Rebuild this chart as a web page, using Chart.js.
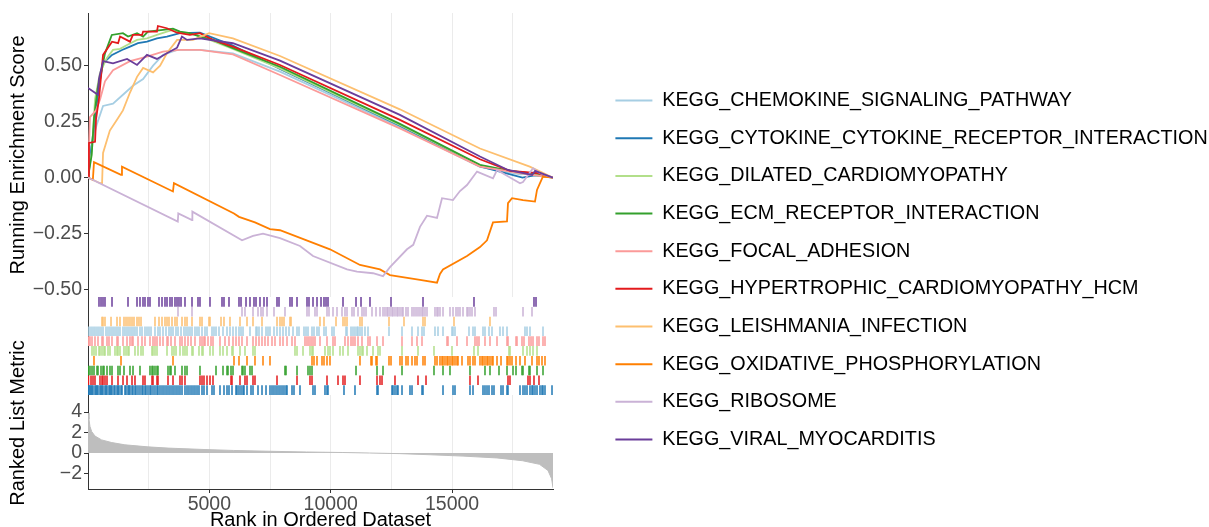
<!DOCTYPE html>
<html><head><meta charset="utf-8">
<script src="https://cdn.jsdelivr.net/npm/chart.js@4/dist/chart.umd.min.js"></script>
<style>html,body{margin:0;padding:0;background:#fff}</style>
</head><body>
<canvas id="c" width="1209" height="527" style="display:block;width:1209px;height:527px"></canvas>
<script>
const setNames = ['KEGG_CHEMOKINE_SIGNALING_PATHWAY','KEGG_CYTOKINE_CYTOKINE_RECEPTOR_INTERACTION','KEGG_DILATED_CARDIOMYOPATHY','KEGG_ECM_RECEPTOR_INTERACTION','KEGG_FOCAL_ADHESION','KEGG_HYPERTROPHIC_CARDIOMYOPATHY_HCM','KEGG_LEISHMANIA_INFECTION','KEGG_OXIDATIVE_PHOSPHORYLATION','KEGG_RIBOSOME','KEGG_VIRAL_MYOCARDITIS'];
const setColors = ['#A6CEE3','#1F78B4','#B2DF8A','#33A02C','#FB9A99','#E31A1C','#FDBF6F','#FF7F00','#CAB2D6','#6A3D9A'];

// running enrichment score: [rank, score]
const esChemokine = [[0,0],[80,0.12],[370,0.24],[620,0.32],[1030,0.33],[1440,0.37],[1850,0.41],[2270,0.44],[2680,0.50],[3090,0.548],[3670,0.57],[4610,0.57],[5970,0.555],[7910,0.473],[12850,0.225],[16150,0.048],[17800,0.015],[18600,0.02],[19158,0]];
const esCytokine = [[0,0],[160,0.15],[330,0.30],[450,0.41],[620,0.51],[990,0.548],[1400,0.57],[1730,0.585],[2060,0.60],[2430,0.607],[2840,0.622],[3250,0.63],[3790,0.645],[4610,0.647],[5970,0.59],[7910,0.485],[12850,0.232],[16150,0.05],[17900,0.0],[18400,0.01],[19158,0]];
const esDilated = [[0,0],[160,0.12],[290,0.35],[490,0.466],[770,0.533],[1030,0.57],[1320,0.575],[1610,0.592],[2020,0.615],[2430,0.622],[2840,0.637],[3250,0.652],[3500,0.66],[3910,0.645],[4490,0.637],[5970,0.575],[7910,0.488],[12850,0.235],[16150,0.055],[17800,0.02],[19158,0]];
const esEcm = [[0,0],[150,0.10],[250,0.27],[400,0.40],[500,0.45],[700,0.555],[980,0.637],[1440,0.645],[1650,0.63],[2020,0.645],[2270,0.63],[2470,0.652],[3090,0.66],[3500,0.665],[3790,0.652],[4200,0.645],[4610,0.63],[5150,0.615],[5970,0.578],[7910,0.495],[12850,0.24],[16150,0.057],[17400,0.03],[18700,0.015],[19158,0]];
const esFocal = [[0,0],[80,0.27],[330,0.30],[500,0.35],[700,0.43],[1030,0.48],[1730,0.52],[2430,0.54],[3090,0.563],[3790,0.57],[4610,0.57],[5970,0.55],[7910,0.458],[12850,0.22],[16150,0.049],[17800,0.02],[19158,0]];
const esHypertrophic = [[0,0],[40,0.155],[290,0.16],[330,0.26],[450,0.35],[620,0.548],[990,0.607],[1240,0.60],[1320,0.63],[1730,0.607],[1850,0.637],[2230,0.637],[2270,0.652],[2840,0.652],[2880,0.677],[3250,0.667],[3670,0.647],[4200,0.637],[4610,0.645],[5150,0.615],[5970,0.585],[7910,0.503],[12850,0.258],[16150,0.082],[17390,0.03],[18540,0.02],[19158,0]];
const esLeishmania = [[0,0],[500,-0.025],[580,-0.025],[620,0.11],[900,0.21],[1200,0.26],[1440,0.30],[1730,0.38],[2020,0.45],[2270,0.49],[2680,0.47],[2970,0.50],[3250,0.555],[3670,0.615],[4330,0.615],[4990,0.645],[5970,0.622],[7910,0.543],[12850,0.305],[16150,0.13],[18200,0.049],[19158,0]];
const esOxidative = [[0,0],[200,-0.01],[247,0.069],[1360,0.012],[1400,0.049],[3500,-0.062],[3540,-0.025],[6015,-0.16],[6221,-0.175],[6880,-0.20],[7498,-0.23],[7910,-0.235],[9970,-0.32],[11206,-0.39],[12030,-0.41],[12442,-0.435],[13678,-0.457],[14379,-0.469],[14502,-0.43],[14626,-0.41],[15615,-0.35],[16150,-0.31],[16439,-0.28],[16686,-0.20],[17263,-0.196],[17304,-0.114],[17469,-0.092],[17922,-0.10],[18416,-0.107],[18499,-0.055],[18622,-0.025],[18746,0.005],[19158,0]];
const esRibosome = [[0,0],[3700,-0.196],[3720,-0.16],[4285,-0.19],[4300,-0.152],[6345,-0.28],[6800,-0.26],[7210,-0.25],[7910,-0.27],[8734,-0.305],[9270,-0.35],[10671,-0.41],[11083,-0.42],[11742,-0.427],[12154,-0.44],[12442,-0.40],[13143,-0.32],[13400,-0.30],[13678,-0.22],[13967,-0.17],[14379,-0.18],[14585,-0.092],[15038,-0.10],[15326,-0.06],[15615,-0.033],[16027,0.027],[16686,-0.003],[16851,0.034],[17798,-0.025],[17922,-0.02],[18334,0.042],[18622,0.02],[19158,0]];
const esViral = [[0,0.40],[410,0.37],[450,0.44],[620,0.52],[1030,0.51],[1610,0.53],[2020,0.503],[2430,0.548],[2840,0.53],[3250,0.555],[3670,0.58],[3870,0.63],[4080,0.615],[4610,0.622],[5970,0.60],[7910,0.522],[12850,0.28],[16150,0.094],[17300,0.034],[18300,0.012],[18420,0.03],[19158,0]];

// gene hit ranks (rug)
const hitsChemokine = [41,124,206,288,371,453,536,618,742,824,906,989,1071,1154,1236,1318,1442,1524,1607,1689,1772,1854,1936,2019,2142,2225,2348,2431,2513,2596,2760,2884,2966,3090,3214,3337,3420,3502,3626,3708,3832,3955,4038,4120,4202,4285,4408,4491,4573,4697,4820,4903,5109,5191,5274,5397,5562,5727,5850,5974,6098,6221,6304,6386,6674,6922,6963,7045,7169,7334,7416,7498,7663,7787,7910,8034,8158,8281,8446,8611,8693,8899,8982,9064,9229,9311,9435,9517,9723,9806,10053,10135,10630,10671,10836,10918,11000,11083,11124,11206,11289,11412,11536,12401,12937,13349,13596,13761,13843,14296,14420,14626,14997,15038,15120,15697,15862,15944,16274,16356,16521,16645,16974,17098,17263,18004,18087,18210,18746];
const hitsCytokine = [10,41,82,124,165,206,288,330,371,412,494,536,577,618,700,742,783,865,906,948,989,1071,1112,1195,1236,1277,1360,1401,1524,1566,1648,1689,1730,1813,1854,1936,1978,2060,2142,2225,2266,2348,2390,2472,2554,2596,2678,2760,2843,2884,2966,3049,3131,3214,3296,3378,3461,3543,3626,3708,3790,3873,3996,4079,4161,4244,4326,4408,4491,4573,4697,4779,4903,5109,5191,5438,5603,5727,5809,5933,6098,6139,6221,6304,6386,6427,6551,6716,6798,7004,7169,7334,7498,7581,7663,7746,7828,7910,7993,8075,8158,8199,8405,8487,8734,9270,9352,9764,9847,9888,10547,11000,11907,11948,12525,12566,12648,12731,12772,12937,13266,13349,13761,13802,14626,15038,15120,15738,15862,16274,16356,16439,16521,16645,16727,17016,17098,17263,17304,17798,17922,18004,18087,18210,18293,18334,18416,18499,18622,18705,18746,18828,19117];
const hitsDilated = [165,247,330,453,494,577,659,700,824,906,1112,1195,1236,1318,1483,1566,1648,1689,1936,2060,2184,2266,2637,2678,2760,2843,3255,3461,3543,3626,3790,3914,3996,4079,4285,4326,4573,4697,4738,5026,5150,5438,5562,5727,5933,5974,6262,6468,6798,6880,8528,8611,8858,9146,9229,9270,9764,9888,9970,10094,10382,10506,10712,11124,11206,11289,11330,11495,11742,11948,12030,12937,13596,14255,14997,15903,16068,17345,17386,17922,18087,18210,18334,18499];
const hitsEcm = [20,82,165,247,371,412,536,618,659,783,906,989,1236,1318,1483,1730,1854,2142,2554,2637,2678,2760,2843,2884,3296,3378,3420,3584,3873,3996,4079,4614,5274,5562,5727,5768,5892,5974,6345,6386,6468,6674,6757,8116,8158,8611,9064,9146,9229,11042,11907,12154,12937,14255,14626,14914,15738,16356,16562,16933,17263,17510,17634,17881,17922,18169,18210,18499,18746];
const hitsFocal = [30,82,165,288,412,577,618,783,865,989,1195,1236,1442,1607,1730,1813,1854,2060,2225,2348,2554,2678,2760,2843,2966,3090,3255,3296,3420,3584,3790,3873,3996,4120,4244,4408,4614,4697,4779,4820,4944,5068,5150,5438,5644,5809,5974,6098,6221,6345,6551,6798,6922,7045,7169,7292,7416,7581,7704,7910,8034,8199,8405,8528,8940,9023,9105,9188,9270,9352,9558,9847,10094,10176,10588,10712,10836,10918,11000,11124,11289,11536,11618,11907,12154,12937,13349,13555,13761,14791,14832,15203,15615,15944,16027,16109,16356,16562,16851,17263,17304,17634,17675,17881,17963,18169,18252,18334,18499,18581,18746,18828];
const hitsHypertrophic = [20,124,206,288,494,577,618,700,783,989,1236,1442,1607,1813,1936,2266,2348,2637,2678,2843,2884,3296,3502,3790,3873,3996,4614,4697,4779,4903,5026,5150,5892,5933,6262,6468,6551,6798,6880,7787,8611,9146,9229,9847,10300,10506,10588,11206,11907,12030,12113,12648,13596,13926,15738,16068,17304,17386,18128,18210,18375,18581];
const hitsLeishmania = [577,618,700,948,1195,1318,1483,1566,1648,1730,1813,1895,2019,2101,2184,2760,2925,3049,3172,3255,3337,3461,3584,3667,3873,3996,4079,4285,4614,4697,4985,5026,5480,5603,5850,6262,6551,6798,7169,7787,7910,7993,8075,8322,8364,9558,9723,10218,10506,10588,10671,11206,11289,12401,13019,13802,13884,15079,16562];
const hitsOxidative = [247,1360,3502,6015,6221,6551,6880,7210,7498,9229,9311,9435,9641,9723,9847,9970,11206,11660,11701,11866,11907,12401,12484,12854,12937,13102,13184,13349,13472,13555,13802,13884,14296,14379,14502,14585,14626,14708,14791,14832,14914,14997,15038,15120,15203,15244,15409,15656,15738,15862,15944,16150,16233,16274,16356,16439,16480,16562,16645,16686,16851,17016,17263,17304,17386,17469,17634,17798,18004,18293,18499,18581,18705,18828];
const hitsRibosome = [3708,4285,6345,6468,6798,7004,7128,7210,7375,7663,8116,9023,9105,9352,9435,9847,9929,10094,10259,10465,10588,10671,10877,10959,11124,11289,11371,11454,11701,11866,12030,12154,12236,12319,12360,12442,12525,12566,12648,12731,12772,12854,12937,12978,13102,13184,13349,13431,13514,13596,13678,13761,13802,13884,13967,14296,14379,14420,14502,14626,14914,15038,15162,15244,15326,15450,15615,15656,15738,15821,15944,16727,16810,17922,18293];
const hitsViral = [453,536,618,700,989,1648,2019,2142,2266,2348,2472,2554,2925,3049,3172,3255,3378,3461,3584,3667,3749,3832,3996,4285,4532,4614,5026,5521,5603,5809,6221,6304,6510,6674,6839,6922,7086,7251,7375,7787,7869,8322,8405,8611,9023,9105,9270,9435,9600,9723,9806,9888,10506,11042,11248,11618,12484,13802,15903,18375,18458];

// ranked list metric: rank, value
const metricRanks = [0,40,80,150,290,560,980,1520,2470,3300,4820,6000,7500,9000,10500,11600,12850,14100,15450,16850,17900,18600,18950,19100,19158];
const metricValues = [3.9,3.3,2.6,2.1,1.65,1.28,1.02,0.8,0.6,0.48,0.34,0.25,0.17,0.1,0.05,0.0,-0.06,-0.17,-0.3,-0.48,-0.75,-1.1,-1.7,-2.5,-3.4];

// axis ticks
const xTicks = [5000, 10000, 15000];
const xMinorTicks = [2500, 7500, 12500, 17500];
const esTicks = [-0.5, -0.25, 0, 0.25, 0.5];
const metricTicks = [-2, 0, 2, 4];
const metricTitle = 'Ranked List Metric';

const esSeries = [esChemokine, esCytokine, esDilated, esEcm, esFocal, esHypertrophic, esLeishmania, esOxidative, esRibosome, esViral];
const hitSeries = [hitsChemokine, hitsCytokine, hitsDilated, hitsEcm, hitsFocal, hitsHypertrophic, hitsLeishmania, hitsOxidative, hitsRibosome, hitsViral];
// rug rows from top to bottom (indices into setNames)
const rugTopToBottom = [9, 8, 6, 0, 4, 2, 7, 3, 5, 1];

const FONT = "'Liberation Sans', Arial, Helvetica, sans-serif";
const minus = s => s.replace('-', '\u2212');

const datasets = [];
setNames.forEach((name, i) => {
  datasets.push({
    type: 'line', label: name,
    data: esSeries[i].map(p => ({x: p[0], y: p[1]})),
    borderColor: setColors[i], backgroundColor: setColors[i],
    borderWidth: 1.8, pointRadius: 0, pointHoverRadius: 0, pointStyle: 'line',
    pointBorderWidth: 2, pointBorderColor: setColors[i],
    tension: 0, fill: false, yAxisID: 'yES', order: 20 - i
  });
});
rugTopToBottom.forEach((si, row) => {
  datasets.push({
    type: 'scatter', label: 'rug_' + si,
    data: hitSeries[si].map(r => ({x: r, y: 9.5 - row})),
    yAxisID: 'yRug', showLine: false,
    pointStyle: 'line', pointRotation: 90, pointRadius: 4.8, pointHoverRadius: 4.8,
    pointBorderColor: setColors[si], pointBorderWidth: 1.5,
    borderColor: setColors[si], order: 30
  });
});
datasets.push({
  type: 'line', label: 'metric',
  data: metricRanks.map((r, k) => ({x: r, y: metricValues[k]})),
  yAxisID: 'yM', borderColor: '#BEBEBE', backgroundColor: '#BEBEBE', borderWidth: 1,
  fill: 'origin', pointRadius: 0, tension: 0, order: 40
});

const legendWidthPlugin = {
  id: 'legendWidth',
  beforeLayout(chart) {
    const lg = chart.legend;
    if (lg && !lg._wPatched) {
      const f = lg.fit;
      lg.fit = function() { f.call(this); this.width = 611.5; };
      lg._wPatched = true;
    }
  }
};
const rugBgPlugin = {
  id: 'rugBg',
  beforeDatasetsDraw(chart) {
    const s = chart.scales.yRug, a = chart.chartArea, ctx = chart.ctx;
    ctx.save(); ctx.fillStyle = '#ffffff';
    ctx.fillRect(a.left + 1, s.top, a.right - a.left, s.bottom - s.top);
    ctx.restore();
  }
};
const metricTitlePlugin = {
  id: 'metricTitle',
  afterDraw(chart) {
    const ctx = chart.ctx, s = chart.scales.yM;
    ctx.save();
    ctx.translate(18, s.top + 28);
    ctx.rotate(-Math.PI / 2);
    ctx.textAlign = 'center'; ctx.textBaseline = 'middle';
    ctx.fillStyle = '#000';
    ctx.font = '20px ' + FONT;
    ctx.fillText(metricTitle, 0, 0);
    ctx.restore();
  }
};

const tickFont = {family: FONT, size: 19.5, lineHeight: 1.1};
const titleFont = {family: FONT, size: 20, lineHeight: 1.2};

new Chart(document.getElementById('c'), {
  type: 'line',
  data: {datasets},
  plugins: [legendWidthPlugin, rugBgPlugin, metricTitlePlugin],
  options: {
    responsive: false, animation: false, events: [],
    layout: {padding: {top: 13, left: 0, right: 0, bottom: 0}},
    plugins: {
      tooltip: {enabled: false},
      legend: {
        position: 'right', align: 'center',
        labels: {
          usePointStyle: true, pointStyleWidth: 37, padding: 17.9,
          color: '#000', font: {family: FONT, size: 19.75},
          filter: item => item.datasetIndex < setNames.length,
          sort: (a, b) => a.datasetIndex - b.datasetIndex
        }
      }
    },
    scales: {
      x: {
        type: 'linear', min: 0, max: 19158, position: 'bottom',
        afterBuildTicks: s => { s.ticks = xMinorTicks.concat(xTicks).sort((a, b) => a - b).map(v => ({value: v})); },
        ticks: {
          callback: v => xTicks.includes(v) ? String(v) : '',
          color: '#4D4D4D', font: tickFont, padding: 1, maxRotation: 0, autoSkip: false
        },
        grid: {
          color: '#EBEBEB', lineWidth: 1, drawTicks: true, tickLength: 4,
          tickColor: c => (c.tick && xTicks.includes(c.tick.value)) ? '#333333' : 'rgba(0,0,0,0)'
        },
        border: {display: true, color: '#333333', width: 1},
        title: {display: true, text: 'Rank in Ordered Dataset', color: '#000', font: titleFont, padding: {top: 0, bottom: -5}},
        afterFit: s => { s.height = 38; }
      },
      yES: {
        type: 'linear', position: 'left', stack: 'panels', stackWeight: 284, weight: 3,
        min: -0.533, max: 0.735,
        afterBuildTicks: s => { s.ticks = esTicks.map(v => ({value: v})); },
        ticks: {callback: v => minus(Number(v).toFixed(2)), color: '#4D4D4D', font: tickFont, padding: 2, autoSkip: false},
        grid: {drawOnChartArea: false, drawTicks: true, tickLength: 4, tickColor: '#333333'},
        border: {display: true, color: '#333333', width: 1},
        title: {display: true, text: 'Running Enrichment Score', color: '#000', font: titleFont, padding: {top: 6, bottom: 0}},
        afterFit: s => { s.width = 88; }
      },
      yRug: {
        type: 'linear', position: 'left', stack: 'panels', stackWeight: 98, weight: 2,
        min: 0, max: 10,
        ticks: {display: false},
        grid: {display: false, drawTicks: false},
        border: {display: true, color: '#333333', width: 1},
        afterFit: s => { s.width = 88; }
      },
      yM: {
        type: 'linear', position: 'left', stack: 'panels', stackWeight: 94, weight: 1,
        min: -3.51, max: 5.66,
        afterBuildTicks: s => { s.ticks = metricTicks.map(v => ({value: v})); },
        ticks: {callback: v => minus(String(v)), color: '#4D4D4D', font: tickFont, padding: 2, autoSkip: false},
        grid: {drawOnChartArea: false, drawTicks: true, tickLength: 4, tickColor: '#333333'},
        border: {display: true, color: '#333333', width: 1},
        afterFit: s => { s.width = 88; }
      },
      pad: {
        type: 'linear', position: 'right', min: 0, max: 1,
        ticks: {display: false}, grid: {display: false, drawTicks: false}, border: {display: false},
        afterFit: s => { s.width = 44.5; }
      }
    }
  }
});
</script>
</body></html>
